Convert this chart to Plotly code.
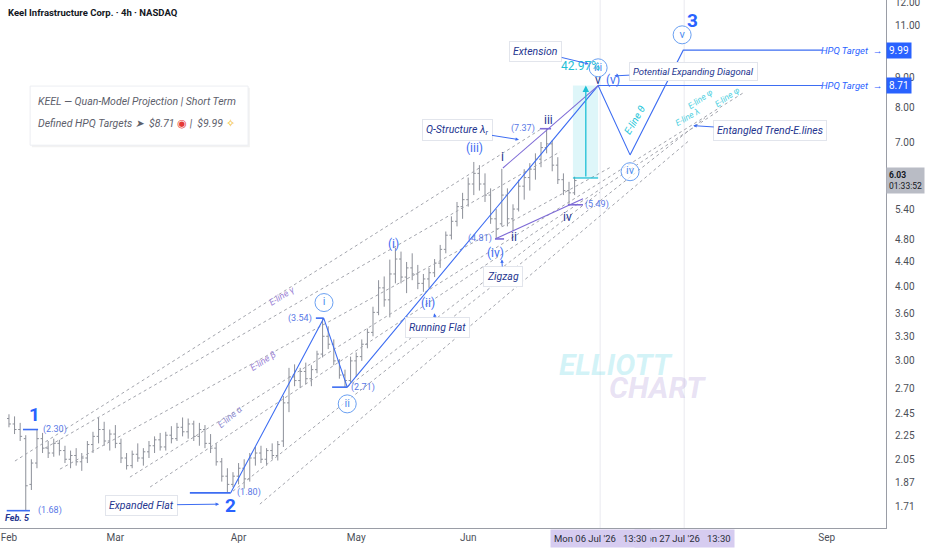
import numpy as np
import pandas as pd
import plotly.graph_objects as go

# NASDAQ sessions (weekends + holidays dropped, like the TradingView time scale)
holidays = ["2026-02-16", "2026-04-03", "2026-05-25", "2026-06-19", "2026-07-03", "2026-09-07"]
sessions = [d for d in pd.bdate_range("2026-01-19", "2026-10-09")
            if d.strftime("%Y-%m-%d") not in holidays]
start = sessions.index(pd.Timestamp("2026-02-02"))


def at(s):
    # session number (0 = Mon 02 Feb, fraction = part of that day) -> timestamp
    n = int(np.floor(s))
    return sessions[start + n] + pd.Timedelta(days=float(s - n))


# ---- price bars (one per session)
opens = [2.40, 2.35, 2.30, 2.22, 1.86, 2.02, 2.22, 2.14, 2.10, 2.18,
         2.12, 2.05, 2.08, 2.03, 2.06, 2.17, 2.24, 2.30, 2.20, 2.26,
         2.18, 2.06, 2.00, 2.09, 2.06, 2.11, 2.16, 2.21, 2.15, 2.25,
         2.22, 2.32, 2.28, 2.35, 2.24, 2.30, 2.18, 2.14, 2.03, 1.92,
         1.86, 1.92, 1.98, 1.90, 2.06, 2.10, 2.05, 2.12, 2.08, 2.20,
         2.55, 2.82, 2.78, 2.88, 2.80, 2.90, 3.08, 3.30, 3.20, 3.00,
         2.84, 2.78, 3.00, 3.05, 3.20, 3.35, 3.62, 3.98, 3.80, 4.20,
         4.45, 4.15, 4.30, 4.20, 4.05, 4.12, 4.22, 4.38, 4.62, 4.88,
         5.15, 5.45, 5.60, 5.95, 6.20, 5.95, 5.70, 5.20, 5.10, 5.70,
         5.20, 5.40, 5.90, 6.10, 6.30, 6.55, 6.85, 6.95, 6.40, 6.05,
         5.80, 5.75]
highs = [2.44, 2.42, 2.36, 2.25, 2.05, 2.30, 2.27, 2.20, 2.22, 2.21,
         2.16, 2.12, 2.14, 2.10, 2.20, 2.28, 2.41, 2.37, 2.30, 2.34,
         2.22, 2.10, 2.12, 2.18, 2.14, 2.20, 2.24, 2.27, 2.28, 2.33,
         2.36, 2.41, 2.40, 2.38, 2.36, 2.34, 2.26, 2.18, 2.06, 1.98,
         1.95, 2.02, 2.05, 2.10, 2.15, 2.16, 2.14, 2.18, 2.20, 2.62,
         2.92, 2.96, 2.92, 2.98, 2.95, 3.12, 3.54, 3.43, 3.26, 3.02,
         2.90, 3.05, 3.10, 3.26, 3.40, 3.70, 4.10, 4.16, 4.44, 4.65,
         4.58, 4.40, 4.55, 4.35, 4.20, 4.30, 4.45, 4.70, 4.95, 5.25,
         5.55, 5.75, 6.10, 6.48, 6.40, 6.20, 5.85, 5.40, 6.31, 5.85,
         5.50, 6.05, 6.30, 6.45, 6.70, 7.00, 7.37, 7.05, 6.60, 6.20,
         6.00, 6.12]
lows = [2.32, 2.26, 2.20, 1.68, 1.82, 1.98, 2.10, 2.06, 2.07, 2.08,
        2.02, 1.98, 2.00, 1.96, 2.02, 2.10, 2.18, 2.16, 2.12, 2.14,
        2.02, 1.97, 1.98, 2.03, 2.00, 2.06, 2.10, 2.12, 2.12, 2.18,
        2.20, 2.24, 2.22, 2.20, 2.16, 2.14, 2.10, 2.00, 1.88, 1.80,
        1.84, 1.86, 1.83, 1.88, 2.00, 2.02, 2.00, 2.05, 2.04, 2.15,
        2.46, 2.72, 2.70, 2.74, 2.72, 2.86, 3.04, 3.14, 2.95, 2.80,
        2.71, 2.76, 2.82, 3.00, 3.15, 3.30, 3.58, 3.70, 3.55, 4.05,
        4.05, 3.90, 4.10, 3.96, 3.92, 3.98, 4.15, 4.30, 4.55, 4.80,
        5.05, 5.20, 5.45, 5.70, 5.80, 5.55, 5.10, 4.81, 5.05, 5.05,
        4.96, 5.35, 5.60, 5.80, 6.05, 6.35, 6.70, 6.25, 5.95, 5.70,
        5.49, 5.70]
closes = [2.35, 2.30, 2.24, 1.85, 2.02, 2.22, 2.14, 2.10, 2.18, 2.12,
          2.05, 2.08, 2.03, 2.06, 2.17, 2.24, 2.30, 2.20, 2.26, 2.18,
          2.06, 2.00, 2.09, 2.06, 2.11, 2.16, 2.21, 2.15, 2.25, 2.22,
          2.32, 2.28, 2.35, 2.24, 2.30, 2.18, 2.14, 2.03, 1.92, 1.86,
          1.92, 1.98, 1.90, 2.06, 2.10, 2.05, 2.12, 2.08, 2.17, 2.55,
          2.82, 2.78, 2.88, 2.80, 2.90, 3.08, 3.30, 3.20, 3.00, 2.84,
          2.78, 3.00, 3.05, 3.20, 3.35, 3.62, 3.98, 3.80, 4.20, 4.45,
          4.15, 4.30, 4.20, 4.05, 4.12, 4.22, 4.38, 4.62, 4.88, 5.15,
          5.45, 5.60, 5.95, 6.20, 5.95, 5.70, 5.20, 5.00, 5.70, 5.20,
          5.40, 5.90, 6.10, 6.30, 6.55, 6.85, 6.95, 6.40, 6.05, 5.80,
          5.75, 6.03]
bar_dates = sessions[start:start + len(closes)]

# ---- axis ticks
price_ticks = [12, 11, 9, 8, 7, 5.4, 4.8, 4.4, 4.0, 3.6, 3.3, 3.0, 2.7, 2.45, 2.25, 2.05, 1.87, 1.71]
month_ticks = ["2026-02-02", "2026-03-02", "2026-04-01", "2026-05-01", "2026-06-01", "2026-09-01"]
month_labels = ["Feb", "Mar", "Apr", "May", "Jun", "Sep"]

# ---- drawings: (session, price) points
wave_s = [39.6, 56.2, 60.4, 105.2, 110.9, 120.4, 145.2]
wave_p = [1.80, 3.54, 2.71, 8.71, 6.66, 9.99, 9.99]
target_low_s = [105.2, 145.2]
target_low_p = [8.71, 8.71]
purple_lines = [(88.2, 6.33, 105.2, 8.71), (86.8, 4.81, 102.5, 5.62)]
e_lines = [(1.07, 2.036, 94.8, 7.34), (6.43, 2.14, 98.4, 6.74), (9.1, 1.973, 107.3, 6.34),
           (21.6, 1.913, 131.4, 8.50), (25.2, 1.841, 127.0, 7.93), (40.0, 1.812, 124.3, 7.69),
           (44.8, 1.723, 121.6, 7.06), (60.4, 2.71, 105.5, 5.76)]
pivot_marks = [(2.5, 5.2, 2.30, "b"), (-0.4, 3.75, 1.68, "b"), (32.3, 39.6, 1.80, "b"),
               (54.8, 56.2, 3.54, "b"), (57.7, 60.4, 2.71, "b"), (94.8, 96.8, 7.37, "p"),
               (86.8, 88.4, 4.81, "p"), (99.8, 102.5, 5.49, "p")]
ext_s = [100.7, 105.2]
ext_p = [6.09, 8.71]

big_labels = [("1", 4.6, 2.44), ("2", 39.6, 1.711), ("3", 122.1, 11.19)]
price_notes = [("(2.30)", 8.2, 2.30), ("(1.68)", 7.3, 1.68), ("(1.80)", 42.9, 1.80),
               ("(3.54)", 52.0, 3.54), ("(2.71)", 63.2, 2.71), ("(7.37)", 91.8, 7.37),
               ("(4.81)", 84.1, 4.81), ("(5.49)", 105.0, 5.49)]
circled = [("i", 56.25, 3.76), ("ii", 60.4, 2.54), ("iii", 105.2, 9.33), ("iv", 110.9, 6.24), ("v", 120.2, 10.6)]
minor = [("(i)", 68.6, 4.71), ("(ii)", 74.8, 3.75), ("(iii)", 83.2, 6.85), ("(iv)", 86.8, 4.56), ("(v)", 107.9, 8.90)]
subminor = [("i", 88.2, 6.61), ("ii", 90.2, 4.85), ("iii", 96.25, 7.63), ("iv", 99.8, 5.24), ("v", 105.2, 8.90)]
callouts = [("Extension", 103.7, 9.46, -54, -13, 10.5), ("Potential Expanding Diagonal", 107.9, 9.04, 80, -4, 9.5),
            ("Entangled Trend-E.lines", 122.0, 7.46, 78, 5, 10.5), ("Q-Structure λ<sub>r</sub>", 91.25, 7.06, -63, -10, 10.5),
            ("Zigzag", 88.0, 4.46, 1, 18, 10.5), ("Running Flat", 75.9, 3.62, 3, 15, 10.5),
            ("Expanded Flat", 37.7, 1.723, -79, 1, 10.5)]
e_labels = [("E-line γ", 48.75, 3.85, -32, "#9c84d6", 9), ("E-line β", 45.4, 2.995, -33, "#9c84d6", 9),
            ("E-line α", 39.5, 2.41, -40, "#8e8bd0", 9), ("E-line θ", 111.8, 7.63, -60, "#26c6da", 10),
            ("E-line λ", 121.1, 7.72, -30, "#4dd0e1", 8.5), ("E-line φ", 123.4, 8.28, -35, "#4dd0e1", 8.5),
            ("E-line φ", 128.2, 8.34, -35, "#4dd0e1", 8.5)]

BLUE = "#3d6df2"
NAVY = "#24358f"
PURPLE = "#7e6bd6"
TEAL = "#1ec0d6"
FONT = "Roboto"
lg = np.log10

fig = go.Figure()

# dotted trend e-lines
for s0, p0, s1, p1 in e_lines:
    fig.add_trace(go.Scatter(x=[at(s0), at(s1)], y=[p0, p1], mode="lines",
                             line=dict(color="#a3a5ad", width=1, dash="dot"), hoverinfo="skip"))

# extension box
fig.add_trace(go.Scatter(x=[at(ext_s[0]), at(ext_s[1]), at(ext_s[1]), at(ext_s[0]), at(ext_s[0])],
                         y=[ext_p[0], ext_p[0], ext_p[1], ext_p[1], ext_p[0]], mode="lines",
                         fill="toself", fillcolor="rgba(0,188,212,0.13)", line=dict(width=0), hoverinfo="skip"))
fig.add_trace(go.Scatter(x=[at(ext_s[0]), at(ext_s[1])], y=[ext_p[0], ext_p[0]], mode="lines",
                         line=dict(color=TEAL, width=1.3), hoverinfo="skip"))

fig.add_trace(go.Ohlc(x=bar_dates, open=opens, high=highs, low=lows, close=closes,
                      increasing_line_color="#8d9099", decreasing_line_color="#8d9099",
                      line_width=1, tickwidth=0.35, hoverinfo="skip"))

# wave structure
fig.add_trace(go.Scatter(x=[at(s) for s in wave_s], y=wave_p, mode="lines",
                         line=dict(color=BLUE, width=1.1), hoverinfo="skip"))
fig.add_trace(go.Scatter(x=[at(s) for s in target_low_s], y=target_low_p, mode="lines",
                         line=dict(color=BLUE, width=1.1), hoverinfo="skip"))
for s0, p0, s1, p1 in purple_lines:
    fig.add_trace(go.Scatter(x=[at(s0), at(s1)], y=[p0, p1], mode="lines",
                             line=dict(color=PURPLE, width=1.1), hoverinfo="skip"))
for s0, s1, p, c in pivot_marks:
    fig.add_trace(go.Scatter(x=[at(s0), at(s1)], y=[p, p], mode="lines",
                             line=dict(color=BLUE if c == "b" else PURPLE, width=1.6), hoverinfo="skip"))

# circled degree labels
fig.add_trace(go.Scatter(x=[at(c[1]) for c in circled], y=[c[2] for c in circled],
                         mode="markers+text", text=[c[0] for c in circled], textposition="middle center",
                         textfont=dict(family=FONT, size=11, color="#4f8ef0"),
                         marker=dict(size=18, color="rgba(255,255,255,0.7)", line=dict(color="#6aa0f2", width=1)),
                         hoverinfo="skip"))

fig.update_traces(showlegend=False)

ann = []
for t, s, p in big_labels:
    ann.append(dict(x=at(s), y=lg(p), text="<b>%s</b>" % t, showarrow=False,
                    font=dict(family=FONT, size=19, color="#2962ff")))
for t, s, p in price_notes:
    ann.append(dict(x=at(s), y=lg(p), text=t, showarrow=False,
                    font=dict(family=FONT, size=9, color="#5a78e6")))
ann.append(dict(x=at(1.6), y=lg(1.633), text="<b><i>Feb. 5</i></b>", showarrow=False,
                font=dict(family=FONT, size=9, color=NAVY)))
for t, s, p in minor:
    ann.append(dict(x=at(s), y=lg(p), text=t, showarrow=False,
                    font=dict(family=FONT, size=12, color=BLUE)))
for t, s, p in subminor:
    ann.append(dict(x=at(s), y=lg(p), text=t, showarrow=False,
                    font=dict(family=FONT, size=12, color=NAVY)))
ann.append(dict(x=at(102.0), y=lg(9.38), text="42.97%", showarrow=False,
                font=dict(family=FONT, size=12, color=TEAL)))
ann.append(dict(x=at(103.0), y=lg(ext_p[1]), ax=at(103.0), ay=lg(ext_p[0]), axref="x", ayref="y",
                text="", showarrow=True, arrowhead=2, arrowsize=1, arrowwidth=1.3, arrowcolor=TEAL))
for t, s, p, dx, dy, fs in callouts:
    ann.append(dict(x=at(s), y=lg(p), ax=dx, ay=dy, text="<i>%s</i>" % t, showarrow=True,
                    arrowhead=2, arrowsize=0.7, arrowwidth=1, arrowcolor=BLUE, standoff=1,
                    bgcolor="white", bordercolor="#e2e5ec", borderwidth=1, borderpad=3,
                    font=dict(family=FONT, size=fs, color=NAVY)))
for t, s, p, ang, col, fs in e_labels:
    ann.append(dict(x=at(s), y=lg(p), text="<i>%s</i>" % t, textangle=ang, showarrow=False,
                    font=dict(family=FONT, size=fs, color=col)))

# target labels on the right
for p in (9.99, 8.71):
    ann.append(dict(xref="paper", x=0.9975, xanchor="right", y=lg(p), text="<i>HPQ Target</i>  →",
                    showarrow=False, font=dict(family=FONT, size=9.5, color="#2962ff")))
    ann.append(dict(xref="paper", x=1.0, xanchor="left", y=lg(p), text="%.2f" % p, showarrow=False,
                    bgcolor="#2962ff", borderpad=2, font=dict(family=FONT, size=10, color="white")))
ann.append(dict(xref="paper", x=1.0, xanchor="left", y=lg(closes[-1]), text="<b>6.03</b><br>01:33:52",
                align="left", showarrow=False, bgcolor="#b9bcc5", borderpad=2,
                font=dict(family=FONT, size=8.5, color="#131722")))

# crosshair date labels
for s, t in ((120.56, "Mon 27 Jul '26   13:30"), (105.56, "Mon 06 Jul '26   13:30")):
    ann.append(dict(x=at(s), yref="paper", y=0, yanchor="top", yshift=-1, text=t, showarrow=False,
                    bgcolor="#d6ccf0", borderpad=3, font=dict(family=FONT, size=9.5, color="#2a2e39")))

# header, note box and watermark
ann.append(dict(xref="paper", yref="paper", x=0.007, y=0.977, xanchor="left", yanchor="middle",
                showarrow=False, text="<b>Keel Infrastructure Corp. · 4h · NASDAQ</b>",
                font=dict(family=FONT, size=9.5, color="#131722")))
ann.append(dict(xref="paper", yref="paper", x=0.041, y=0.807, xanchor="left", yanchor="middle",
                showarrow=False, text="<i>KEEL — Quan-Model Projection | Short Term</i>",
                font=dict(family=FONT, size=10.5, color="#5d606b")))
ann.append(dict(xref="paper", yref="paper", x=0.041, y=0.767, xanchor="left", yanchor="middle",
                showarrow=False,
                text="<i>Defined HPQ Targets ➤  $8.71 </i><span style='color:#e53935'>◉</span>"
                     "<i> |  $9.99 </i><span style='color:#f2b705'>✧</span>",
                font=dict(family=FONT, size=10.5, color="#5d606b")))
ann.append(dict(xref="paper", yref="paper", x=0.695, y=0.309, xanchor="center", yanchor="middle",
                showarrow=False, text="<b><i>ELLIOTT</i></b>",
                font=dict(family=FONT, size=30, color="rgba(128,222,234,0.35)")))
ann.append(dict(xref="paper", yref="paper", x=0.742, y=0.267, xanchor="center", yanchor="middle",
                showarrow=False, text="<b><i>CHART</i></b>",
                font=dict(family=FONT, size=30, color="rgba(179,157,219,0.30)")))

shapes = [
    dict(type="line", xref="x", yref="paper", x0=at(105.56), x1=at(105.56), y0=0, y1=1,
         line=dict(color="#e9e9ef", width=1), layer="below"),
    dict(type="line", xref="x", yref="paper", x0=at(120.56), x1=at(120.56), y0=0, y1=1,
         line=dict(color="#e9e9ef", width=1), layer="below"),
    dict(type="rect", xref="paper", yref="paper", x0=0.036, x1=0.282, y0=0.721, y1=0.834,
         fillcolor="rgba(0,0,0,0.05)", line=dict(width=0)),
    dict(type="rect", xref="paper", yref="paper", x0=0.034, x1=0.280, y0=0.725, y1=0.837,
         fillcolor="white", line=dict(color="#eceef2", width=1)),
]

fig.update_layout(
    width=932, height=550,
    margin=dict(l=0, r=46, t=0, b=22),
    paper_bgcolor="white", plot_bgcolor="white",
    showlegend=False,
    font=dict(family=FONT, size=10, color="#4c4f58"),
    annotations=ann, shapes=shapes,
    xaxis=dict(type="date", range=[at(-1.6), at(156.6)], automargin=False,
               rangebreaks=[dict(bounds=["sat", "mon"]), dict(values=holidays)],
               rangeslider=dict(visible=False),
               tickvals=month_ticks, ticktext=month_labels, ticks="",
               showgrid=False, zeroline=False, showline=True, linecolor="#9a9da6", linewidth=1,
               tickfont=dict(size=10, color="#4c4f58")),
    yaxis=dict(type="log", side="right", range=[lg(1.571), lg(12.13)], automargin=False,
               tickvals=price_ticks, ticktext=["%.2f" % v for v in price_ticks], ticks="",
               ticklabelstandoff=6, ticklabeloverflow="allow",
               showgrid=False, zeroline=False, showline=True, linecolor="#9a9da6", linewidth=1,
               tickfont=dict(size=10, color="#4c4f58")),
)

# the page's default body margin would push the figure 8px in
fig.write_html("out.html", config={"displayModeBar": False},
               post_script="document.body.style.margin='0';document.body.style.overflow='hidden';")
